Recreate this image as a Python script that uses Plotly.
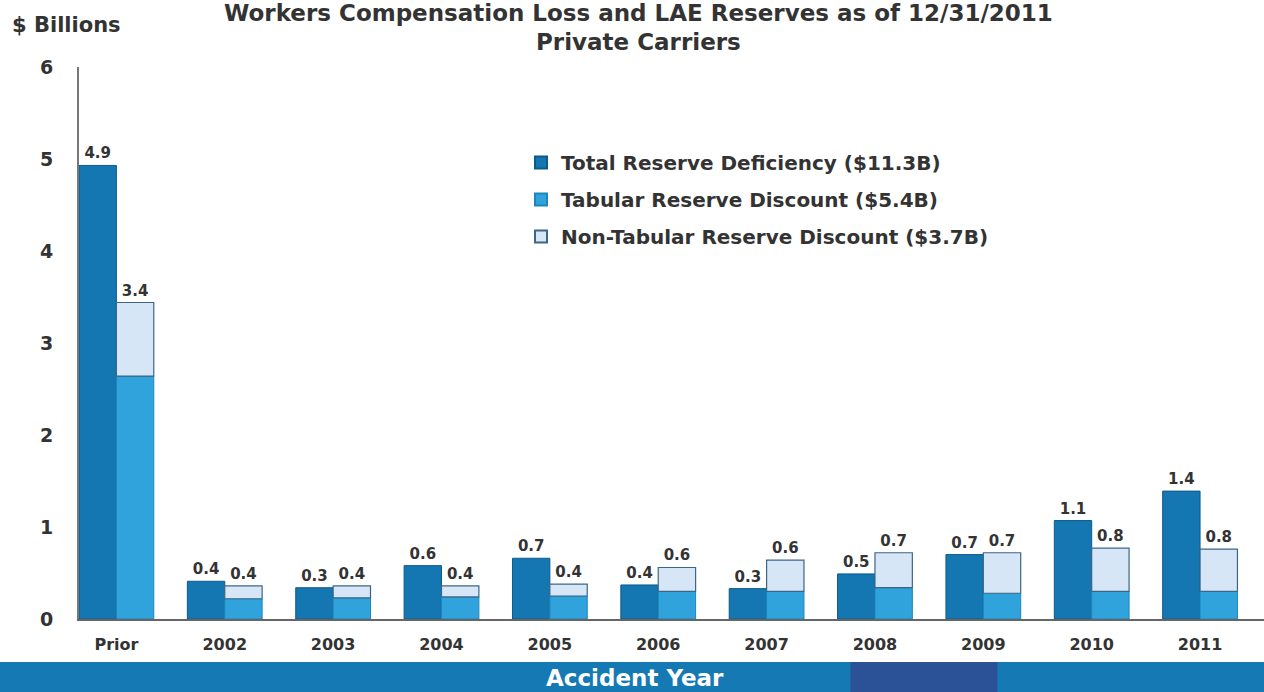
import plotly.graph_objects as go

years = ["Prior", "2002", "2003", "2004", "2005", "2006", "2007", "2008", "2009", "2010", "2011"]
deficiency = [4.93, 0.41, 0.34, 0.58, 0.66, 0.37, 0.33, 0.49, 0.70, 1.07, 1.39]
tabular = [2.64, 0.22, 0.23, 0.24, 0.25, 0.30, 0.30, 0.34, 0.28, 0.30, 0.30]
non_tabular = [0.80, 0.14, 0.13, 0.12, 0.13, 0.26, 0.34, 0.38, 0.44, 0.47, 0.46]

names = ["Total Reserve Deficiency ($11.3B)",
         "Tabular Reserve Discount ($5.4B)",
         "Non-Tabular Reserve Discount ($3.7B)"]

dark = "#1477b2"
mid = "#30a2dc"
light = "#d6e6f6"
edge = "#3c6686"
txt = "#333333"
font = "DejaVu Sans"

bw = 0.345
disc_total = [t + n for t, n in zip(tabular, non_tabular)]

# plot area runs from y=67px (6) to y=619px (0), 552px tall
def py(px):
    return (619 - px) / 552

fig = go.Figure()
fig.add_trace(go.Bar(
    x=years, y=deficiency, name=names[0], legendgroup="a",
    offset=-bw, width=bw,
    marker=dict(color=dark, line=dict(color="#0d5a8a", width=1)),
    text=[f"{v:.1f}" for v in deficiency], textposition="outside",
    textfont=dict(family=font, size=15, color=txt, weight="bold"),
    cliponaxis=False,
))
fig.add_trace(go.Bar(
    x=years, y=tabular, name=names[1], legendgroup="b",
    offset=0, width=bw,
    marker=dict(color=mid, line=dict(color="#1d86bd", width=1)),
))
fig.add_trace(go.Bar(
    x=years, y=non_tabular, base=tabular, name=names[2], legendgroup="c",
    offset=0, width=bw,
    marker=dict(color=light, line=dict(color=edge, width=1.2)),
    text=[f"{v:.1f}" for v in disc_total], textposition="outside",
    textfont=dict(family=font, size=15, color=txt, weight="bold"),
    cliponaxis=False,
))

fig.update_layout(
    width=1264, height=692,
    barmode="overlay",
    margin=dict(l=79, r=0, t=67, b=73),
    paper_bgcolor="white", plot_bgcolor="white",
    font=dict(family=font, color=txt),
    legend=dict(
        x=0.373, y=py(143), xanchor="left", yanchor="top",
        font=dict(family=font, size=20, color=txt, weight="bold"),
        tracegroupgap=8, itemsizing="constant", itemwidth=30,
        bgcolor="rgba(0,0,0,0)",
    ),
    xaxis=dict(
        range=[-0.345, 10.59], showline=True, linecolor="#666666", linewidth=2,
        ticks="", showgrid=False, ticklabelstandoff=10,
        tickfont=dict(family=font, size=16, color=txt, weight="bold"),
    ),
    yaxis=dict(
        range=[0, 6], dtick=1, showline=True, linecolor="#777777", linewidth=2,
        showgrid=False, zeroline=False, ticks="", ticklabelstandoff=20,
        tickfont=dict(family=font, size=19, color=txt, weight="bold"),
    ),
    shapes=[
        dict(type="rect", xref="paper", yref="paper", x0=-0.07, x1=1.0,
             y0=py(692), y1=py(662), fillcolor="#1579b3", line=dict(width=0), layer="below"),
        dict(type="rect", xref="paper", yref="paper", x0=0.651, x1=0.775,
             y0=py(692), y1=py(662), fillcolor="#2b5196", line=dict(width=0), layer="below"),
    ],
    annotations=[
        dict(text="Workers Compensation Loss and LAE Reserves as of 12/31/2011",
             xref="paper", yref="paper", x=0.472, y=py(13), yanchor="middle", showarrow=False,
             font=dict(family=font, size=23, color=txt, weight="bold")),
        dict(text="Private Carriers", xref="paper", yref="paper", x=0.472, y=py(42),
             yanchor="middle", showarrow=False,
             font=dict(family=font, size=23, color=txt, weight="bold")),
        dict(text="$ Billions", xref="paper", yref="paper", x=-0.058, y=py(25),
             xanchor="left", yanchor="middle", showarrow=False,
             font=dict(family=font, size=21, color=txt, weight="bold")),
        dict(text="Accident Year", xref="paper", yref="paper", x=0.469, y=py(678),
             yanchor="middle", showarrow=False,
             font=dict(family=font, size=23, color="white", weight="bold")),
    ],
)

fig.write_html("out.html", config={"displayModeBar": False},
               post_script="document.body.style.margin='0';")
